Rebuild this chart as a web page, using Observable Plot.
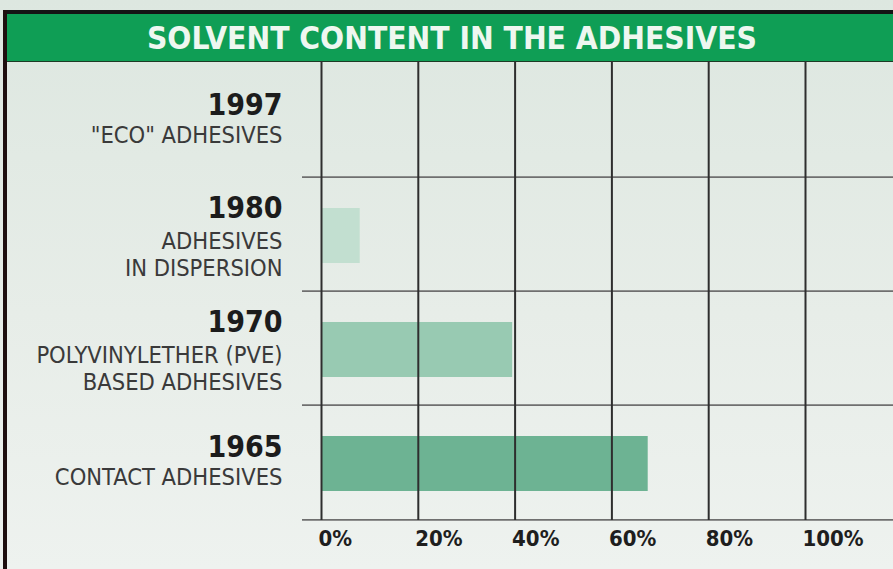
<!DOCTYPE html>
<html>
<head>
<meta charset="utf-8">
<script src="https://cdn.jsdelivr.net/npm/d3@7"></script>
<script src="https://cdn.jsdelivr.net/npm/@observablehq/plot@0.6"></script>
<style>
  html, body { margin: 0; padding: 0; }
  body { width: 893px; height: 569px; overflow: hidden; }
  #wrap {
    position: relative; width: 893px; height: 569px;
    background: linear-gradient(to bottom, #dde7e0 0%, #e7ede8 55%, #eef2ef 100%);
    font-family: "DejaVu Sans Condensed", "DejaVu Sans", sans-serif;
  }
  #title {
    position: absolute; left: 3px; top: 10px; width: 890px; height: 52px;
    box-sizing: border-box;
    border-top: 4px solid #141414; border-left: 4px solid #1e0f0f; border-bottom: 1px solid #1d3a26;
    background: #0f9e55;
    display: flex; align-items: center; justify-content: center;
  }
  #title span {
    display: inline-block; color: #eef7f0; font-weight: bold; font-size: 32px;
    white-space: nowrap; transform-origin: center center; position: relative; left: 2px;
  }
  #chart { position: absolute; left: 0; top: 61px; }
  #leftBorder { position: absolute; left: 3px; top: 10px; width: 4px; height: 559px; background: #1e0f0f; }
</style>
</head>
<body>
<div id="wrap">
  <div id="title"><span id="titleText">SOLVENT CONTENT IN THE ADHESIVES</span></div>
  <div id="chart"></div>
  <div id="leftBorder"></div>
</div>
<script>
// ---- data ----
const years = ["1997", "1980", "1970", "1965"];
const descriptions = [
  "\"ECO\" ADHESIVES",
  "ADHESIVES\nIN DISPERSION",
  "POLYVINYLETHER (PVE)\nBASED ADHESIVES",
  "CONTACT ADHESIVES"
];
const solventPercent = [0, 8, 39.5, 67.5];
const xTicks = [0, 20, 40, 60, 80, 100];

const rows = years.map((y, i) => ({year: y, desc: descriptions[i], value: solventPercent[i]}));
const singleRows = rows.filter(d => !d.desc.includes("\n"));
const doubleRows = rows.filter(d => d.desc.includes("\n"));

// ---- layout ----
const W = 893, H = 508;
const mTop = 0, mBottom = 49, mLeft = 321, mRight = 88;
const halfBand = (H - mTop - mBottom) / years.length / 2;
const labelDx = -39;

const chart = Plot.plot({
  width: W, height: H,
  marginTop: mTop, marginBottom: mBottom, marginLeft: mLeft, marginRight: mRight,
  style: {background: "transparent", fontFamily: "'DejaVu Sans Condensed', 'DejaVu Sans', sans-serif", overflow: "visible"},
  x: {domain: [0, 100], axis: null},
  y: {domain: years, padding: 0, axis: null},
  color: {domain: years, range: ["#c2dfd0", "#c2dfd0", "#98cab2", "#6db393"]},
  marks: [
    Plot.barX(rows, {x: "value", y: "year", fill: "year", insetTop: 31, insetBottom: 28}),
    Plot.ruleY(years.slice(1), {y: d => d, dy: -halfBand, insetLeft: -19, insetRight: -mRight, stroke: "#6f6f6f", strokeWidth: 1.6}),
    Plot.ruleY(years.slice(-1), {y: d => d, dy: halfBand, insetLeft: -19, insetRight: -mRight, stroke: "#6f6f6f", strokeWidth: 1.6}),
    Plot.ruleX(xTicks, {x: d => d, stroke: "#2e2e2e", strokeWidth: 2}),
    // year labels
    Plot.text(singleRows, {y: "year", text: "year", frameAnchor: "left", dx: labelDx, dy: -15, textAnchor: "end",
      fontSize: 30, fontWeight: "bold", fill: "#1c1c1c"}),
    Plot.text(doubleRows, {y: "year", text: "year", frameAnchor: "left", dx: labelDx, dy: -26, textAnchor: "end",
      fontSize: 30, fontWeight: "bold", fill: "#1c1c1c"}),
    // descriptions
    Plot.text(singleRows, {y: "year", text: "desc", frameAnchor: "left", dx: labelDx, dy: 15, textAnchor: "end",
      fontSize: 23.5, fill: "#3a3a3a"}),
    Plot.text(doubleRows, {y: "year", text: "desc", frameAnchor: "left", dx: labelDx, dy: 19.5, textAnchor: "end",
      fontSize: 23.5, lineHeight: 1.15, fill: "#3a3a3a"}),
    // x tick labels
    Plot.text(xTicks, {x: d => d, text: d => `${d}%`, frameAnchor: "bottom", dy: 25, dx: -3, textAnchor: "start",
      fontSize: 22, fontWeight: "bold", fill: "#1e1e1e", ariaLabel: "tick-labels"})
  ]
});

document.getElementById("chart").appendChild(chart);

// style the "%" sign lighter, as in the reference
const tickGroup = chart.querySelector('g[aria-label="tick-labels"]');
if (tickGroup) {
  tickGroup.querySelectorAll("text").forEach(t => {
    const s = t.textContent;
    if (s.endsWith("%")) {
      t.textContent = s.slice(0, -1);
      const ts = document.createElementNS("http://www.w3.org/2000/svg", "tspan");
      ts.textContent = "%";
      ts.setAttribute("font-weight", "normal");
      ts.setAttribute("fill", "#4a4a4a");
      t.appendChild(ts);
    }
  });
}

// fit title width to reference (~610px)
const tt = document.getElementById("titleText");
const w = tt.getBoundingClientRect().width;
if (w > 0) tt.style.transform = `scaleX(${610 / w})`;
</script>
</body>
</html>
